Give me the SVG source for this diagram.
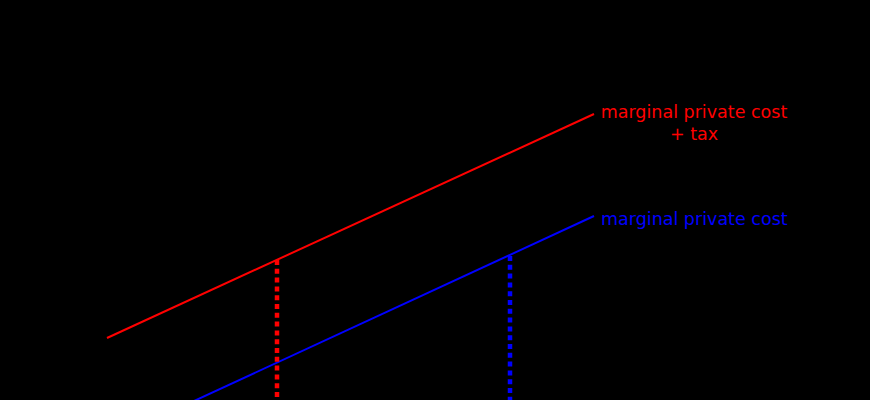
<svg xmlns="http://www.w3.org/2000/svg" width="870" height="400" viewBox="0 0 870 400">
<style>
.curve{fill:none;stroke-width:2}
.drop{fill:none;stroke-width:4.5;stroke-dasharray:5 3.8}
.lbl{font-family:"DejaVu Sans",sans-serif;font-size:17.5px}
</style>
<rect width="870" height="400" fill="#000"/>
<g id="connectors">
<line class="curve" x1="107" y1="338" x2="594" y2="114" stroke="#f00"/>
<line class="curve" x1="194" y1="401" x2="594" y2="216" stroke="#00f"/>
<line class="drop" x1="277" y1="260" x2="277" y2="400" stroke="#f00"/>
<line class="drop" x1="510" y1="256" x2="510" y2="400" stroke="#00f"/>
</g>
<g id="label-mpc-tax">
<text class="lbl" fill="#f00" x="694" y="118" text-anchor="middle">marginal private cost</text>
<text class="lbl" fill="#f00" x="694" y="140" text-anchor="middle">+ tax</text>
</g>
<g id="label-mpc">
<text class="lbl" fill="#00f" x="601" y="225">marginal private cost</text>
</g>
</svg>
